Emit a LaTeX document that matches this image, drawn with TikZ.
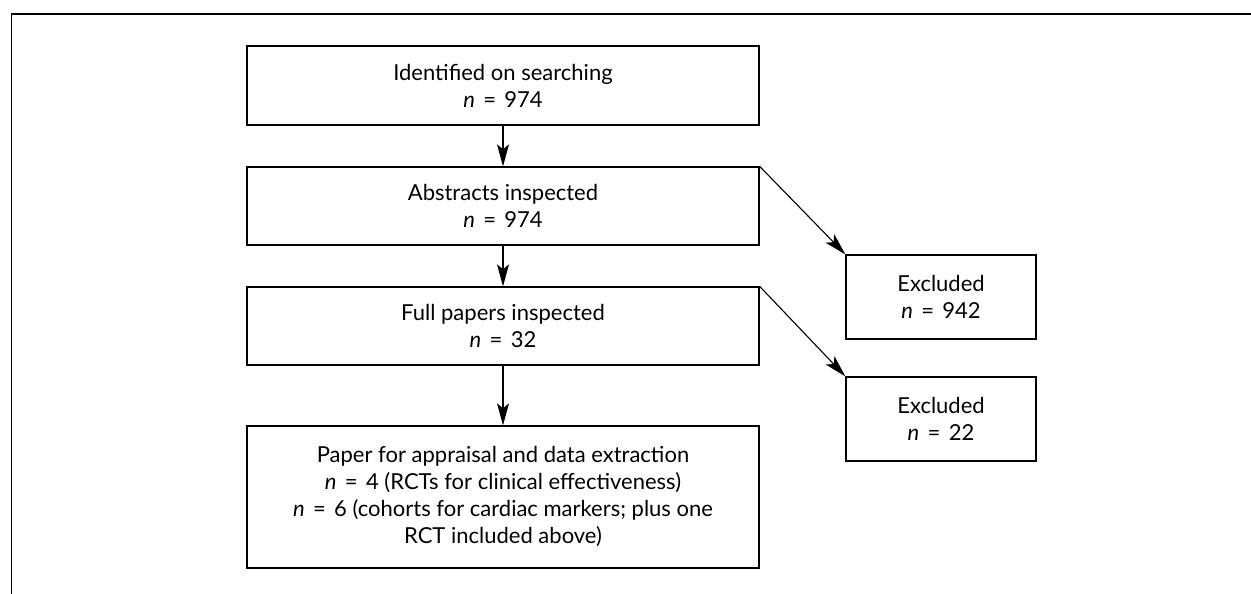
\documentclass[tikz,border=0pt]{standalone}
\usepackage{fontspec}
\setmainfont{Lato}
\usetikzlibrary{arrows.meta}
\newcommand{\eqn}[1]{\textit{n}\hspace{0.38em}=\hspace{0.38em}#1}
\begin{document}
\begin{tikzpicture}[x=1pt,y=-1pt,
  box/.style={draw,line width=1.3pt,align=center,inner sep=0pt,font=\fontsize{22}{27}\selectfont},
  arr/.style={line width=1.1pt,-{Stealth[length=22pt,width=12pt,inset=5pt]}}]
\useasboundingbox (0,0) rectangle (1251,594);
\draw[line width=1.6pt] (11.5,594) -- (11.5,14) -- (1251,14);
\node[box,minimum width=512pt,minimum height=79pt] (b1) at (503,85.5) {Identified on searching\\\eqn{974}};
\node[box,minimum width=512pt,minimum height=78pt] (b2) at (503,206) {Abstracts inspected\\\eqn{974}};
\node[box,minimum width=512pt,minimum height=78pt] (b3) at (503,326) {Full papers inspected\\\eqn{32}};
\node[box,minimum width=512pt,minimum height=142pt] (b4) at (503,497) {Paper for appraisal and data extraction\\\eqn{4} (RCTs for clinical effectiveness)\\\eqn{6} (cohorts for cardiac markers; plus one\\RCT included above)};
\node[box,minimum width=190pt,minimum height=84pt] (e1) at (941,297) {Excluded\\\eqn{942}};
\node[box,minimum width=190pt,minimum height=84pt] (e2) at (941,419) {Excluded\\\eqn{22}};
\draw[arr] (b1.south) -- (b2.north);
\draw[arr] (b2.south) -- (b3.north);
\draw[arr] (b3.south) -- (b4.north);
\draw[arr] (b2.north east) -- (e1.north west);
\draw[arr] (b3.north east) -- (e2.north west);
\end{tikzpicture}
\end{document}
